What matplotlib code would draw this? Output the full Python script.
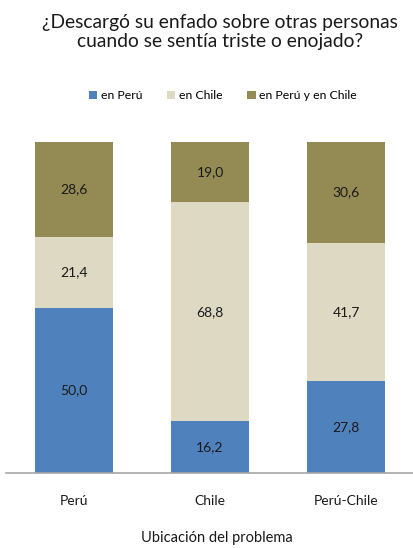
import numpy as np
from matplotlib import pyplot as plt

plt.rcParams['font.family'] = ['Lato', 'DejaVu Sans']

# data
categories = ['Perú', 'Chile', 'Perú-Chile']
series_names = ['en Perú', 'en Chile', 'en Perú y en Chile']
en_peru = [50.0, 16.2, 27.8]
en_chile = [21.4, 68.8, 41.7]
en_ambos = [28.6, 19.0, 30.6]
colors = ['#4F81BD', '#DDD9C3', '#948A54']

fig = plt.figure(figsize=(4.14, 5.48), dpi=100)
ax = fig.add_axes([6 / 414, 75 / 548, 408 / 414, 331 / 548])

x = np.arange(len(categories))
data = np.array([en_peru, en_chile, en_ambos])
totals = data.sum(axis=0)
# 100% stacked, labels show original values
bottom = np.zeros(len(categories))
for vals, name, col in zip(data, series_names, colors):
    pct = vals / totals * 100
    ax.bar(x, pct, 0.575, bottom=bottom, color=col, label=name)
    for xi, v, p, b in zip(x, vals, pct, bottom):
        ax.text(xi, b + p / 2, f'{v:.1f}'.replace('.', ','), ha='center', va='center',
                fontsize=10, color='#1a1a1a')
    bottom += pct

ax.set_xlim(-0.5, 2.5)
ax.set_ylim(0, 100)
ax.set_yticks([])
for s in ['left', 'right', 'top']:
    ax.spines[s].set_visible(False)
ax.spines['bottom'].set_color('#a6a6a6')
ax.spines['bottom'].set_linewidth(1.2)
ax.set_xticks(x)
ax.set_xticklabels(categories, fontsize=10, color='#1a1a1a')
ax.tick_params(axis='x', length=0, pad=16)

fig.text(0.525, 10 / 548, 'Ubicación del problema', ha='center', va='center',
         fontsize=10.5, color='#1a1a1a')

fig.text(0.532, 1 - 32 / 548, '¿Descargó su enfado sobre otras personas\ncuando se sentía triste o enojado?',
         ha='center', va='center', fontsize=13.9, color='#1a1a1a', linespacing=1.2)

fig.legend(loc='center', bbox_to_anchor=(0.538, 0.825), ncol=3, frameon=False,
           fontsize=8.8, handlelength=0.7, handleheight=0.7, handletextpad=0.3,
           columnspacing=2.0)

fig.savefig('out.png', dpi=100)
